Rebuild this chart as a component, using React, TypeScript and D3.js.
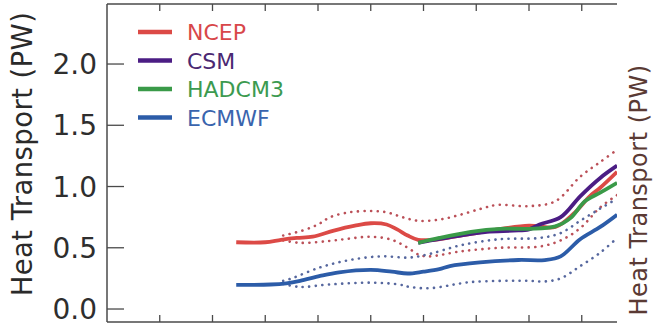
import React from "react";
import * as d3 from "d3";

// ---- Data (latitude, heat transport PW) ----
const ncepLat = [-45.5, -40, -37, -34, -31, -27, -23, -20, -17, -15, -13, -11, -8, -5, 0, 4, 10, 15, 18.5, 21.5, 23.5, 26.7];
const ncepVal = [0.545, 0.545, 0.565, 0.58, 0.59, 0.64, 0.68, 0.7, 0.69, 0.65, 0.6, 0.565, 0.565, 0.585, 0.62, 0.65, 0.68, 0.67, 0.78, 0.92, 0.99, 1.12];

const ncepHiLat = [-36.6, -33, -30, -27.7, -24, -20, -17, -14, -11, -7, -3, 1, 4, 10, 15, 19.7, 23.5, 26.7];
const ncepHiVal = [0.6, 0.64, 0.69, 0.75, 0.79, 0.8, 0.79, 0.75, 0.72, 0.73, 0.77, 0.82, 0.85, 0.84, 0.88, 1.08, 1.2, 1.3];

const ncepLoLat = [-36.6, -33.4, -28, -24, -20, -16, -13, -10.7, -8.8, -3, 4.5, 12, 16, 19.7, 23.5, 26.7];
const ncepLoVal = [0.56, 0.54, 0.555, 0.575, 0.59, 0.565, 0.5, 0.44, 0.43, 0.47, 0.5, 0.51, 0.56, 0.66, 0.83, 0.93];

const ecmwfLat = [-45.5, -39, -36, -33.4, -29.6, -26, -20, -16, -13, -10, -7, -5, 0.7, 8, 13, 16, 19.7, 23.5, 26.7];
const ecmwfVal = [0.197, 0.2, 0.21, 0.23, 0.27, 0.3, 0.32, 0.305, 0.29, 0.305, 0.325, 0.35, 0.38, 0.4, 0.4, 0.43, 0.57, 0.67, 0.77];

const ecmwfHiLat = [-36.6, -35, -29.6, -24, -18, -12.6, -8.8, -3, 4.5, 12, 16, 19.7, 23.5, 26.7];
const ecmwfHiVal = [0.23, 0.25, 0.34, 0.4, 0.43, 0.42, 0.45, 0.52, 0.57, 0.58, 0.62, 0.72, 0.82, 0.9];

const ecmwfLoLat = [-36.6, -33.4, -28, -20, -14.6, -12.6, -8.8, -1, 10, 13, 16, 19.7, 23.5, 26.7];
const ecmwfLoVal = [0.205, 0.18, 0.2, 0.215, 0.2, 0.18, 0.17, 0.22, 0.23, 0.225, 0.25, 0.35, 0.46, 0.58];

const csmLat = [-11, -8, -3, 2, 7, 10, 12, 16, 19.7, 23.5, 26.7];
const csmVal = [0.54, 0.565, 0.6, 0.63, 0.64, 0.65, 0.69, 0.75, 0.92, 1.07, 1.17];

const hadLat = [-11, -7, -1, 4.5, 10, 15, 17.8, 20.6, 23.5, 26.7];
const hadVal = [0.54, 0.58, 0.63, 0.655, 0.655, 0.675, 0.74, 0.88, 0.95, 1.03];

const yTicks = [0, 0.5, 1.0, 1.5, 2.0];
const xTicks = [-60, -50, -40, -30, -20, -10, 0, 10, 20];
const legendNames = ["NCEP", "CSM", "HADCM3", "ECMWF"];
const legendColors = ["#dc4a46", "#4b1d84", "#3a9a48", "#2c5ca8"];
const legendTextColors = ["#d8474a", "#4a2872", "#3c9a50", "#3a64ad"];
const axisTitle = "Heat Transport (PW)";

const W = 656;
const H = 327;
const left = 107;
const right = 617;
const top = 4;
const bottom = 322;

export default function App() {
  const x = d3.scaleLinear().domain([-70, 30]).range([left, 634.5]);
  const y = d3.scaleLinear().domain([-0.106, 2.49]).range([bottom, top]);
  const line = d3
    .line<[number, number]>()
    .x((d) => x(d[0]))
    .y((d) => y(d[1]))
    .curve(d3.curveCatmullRom.alpha(0.5));
  const zip = (a: number[], b: number[]) => a.map((v, i) => [v, b[i]] as [number, number]);

  const dotted = [
    { d: zip(ncepHiLat, ncepHiVal), c: "#bb5058" },
    { d: zip(ncepLoLat, ncepLoVal), c: "#bb5058" },
    { d: zip(ecmwfHiLat, ecmwfHiVal), c: "#56679e" },
    { d: zip(ecmwfLoLat, ecmwfLoVal), c: "#56679e" },
  ];
  const solid = [
    { d: zip(ecmwfLat, ecmwfVal), c: legendColors[3] },
    { d: zip(ncepLat, ncepVal), c: legendColors[0] },
    { d: zip(csmLat, csmVal), c: legendColors[1] },
    { d: zip(hadLat, hadVal), c: legendColors[2] },
  ];

  const font = "'DejaVu Sans', sans-serif";
  const axisColor = "#4a4a4a";

  return (
    <svg width={W} height={H} style={{ position: "absolute", left: 0, top: 0, background: "#fff" }}>
      <defs>
        <clipPath id="plotclip">
          <rect x={left} y={top} width={right - left} height={bottom - top} />
        </clipPath>
      </defs>
      {/* frame */}
      <line x1={left} x2={right} y1={top} y2={top} stroke={axisColor} strokeWidth={1.5} />
      <line x1={left} x2={right} y1={bottom} y2={bottom} stroke={axisColor} strokeWidth={1.5} />
      <line x1={left} x2={left} y1={top} y2={bottom} stroke={axisColor} strokeWidth={1.5} />
      {xTicks.map((t) => (
        <g key={t}>
          <line x1={x(t)} x2={x(t)} y1={top} y2={top + 7} stroke={axisColor} strokeWidth={1.3} />
          <line x1={x(t)} x2={x(t)} y1={bottom} y2={bottom - 7} stroke={axisColor} strokeWidth={1.3} />
        </g>
      ))}
      {yTicks.map((t) => (
        <g key={t}>
          <line x1={left} x2={left + 17} y1={y(t)} y2={y(t)} stroke={axisColor} strokeWidth={1.3} />
          <text
            x={97}
            y={y(t) + 10}
            textAnchor="end"
            fontFamily={font}
            fontSize={28}
            fill="#2e2e2e"
          >
            {t.toFixed(1)}
          </text>
        </g>
      ))}
      <text
        transform="translate(32,154) rotate(-90)"
        textAnchor="middle"
        fontFamily={font}
        fontSize={27.5}
        letterSpacing={0.4}
        fill="#2a2a2a"
      >
        {axisTitle}
      </text>
      <text
        transform="translate(647,190) rotate(-90)"
        textAnchor="middle"
        fontFamily={font}
        fontSize={24}
        letterSpacing={0.5}
        fill="#5a3a34"
      >
        {axisTitle}
      </text>
      <g clipPath="url(#plotclip)">
        {dotted.map((s, i) => (
          <path
            key={"d" + i}
            d={line(s.d) || ""}
            fill="none"
            stroke={s.c}
            strokeWidth={2.6}
            strokeDasharray="0.1 6.5"
            strokeLinecap="round"
          />
        ))}
        {solid.map((s, i) => (
          <path key={"s" + i} d={line(s.d) || ""} fill="none" stroke={s.c} strokeWidth={3.8} strokeLinejoin="round" />
        ))}
      </g>
      {legendNames.map((n, i) => {
        const ly = 32 + i * 28.5;
        return (
          <g key={n}>
            <line x1={138} x2={172} y1={ly} y2={ly} stroke={legendColors[i]} strokeWidth={4.5} />
            <text x={187} y={ly + 8} fontFamily={font} fontSize={22} fill={legendTextColors[i]}>
              {n}
            </text>
          </g>
        );
      })}
    </svg>
  );
}
